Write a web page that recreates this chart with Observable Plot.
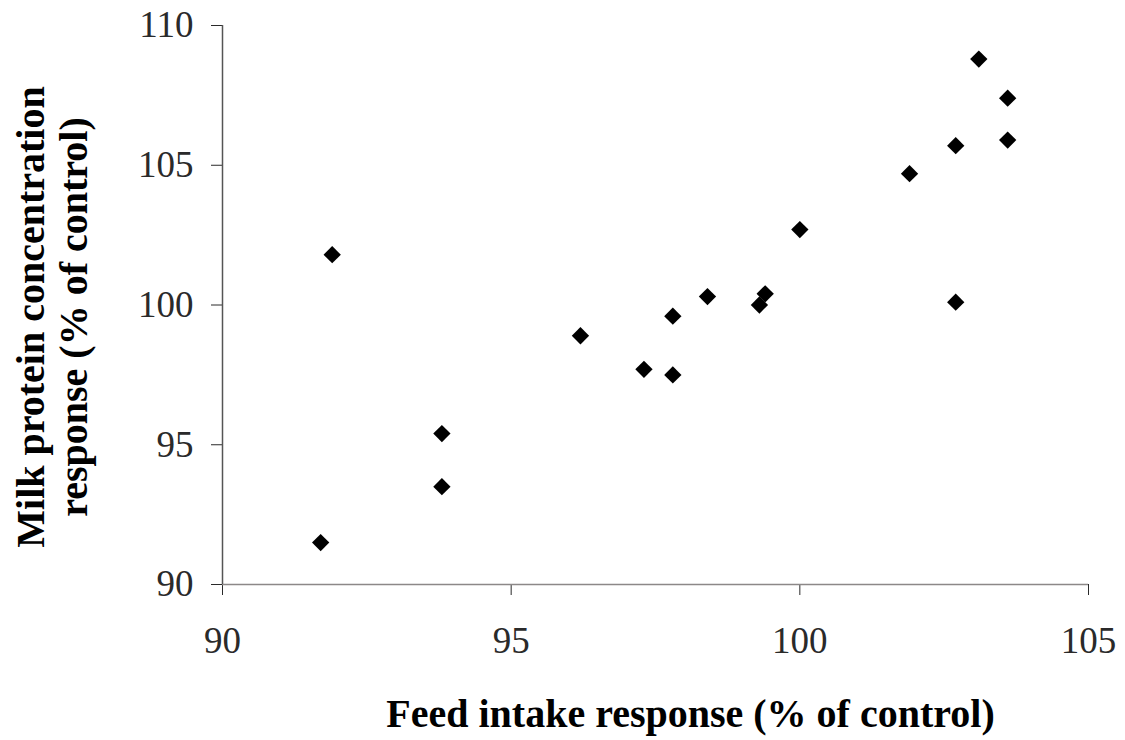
<!DOCTYPE html>
<html>
<head>
<meta charset="utf-8">
<script src="https://cdn.jsdelivr.net/npm/d3@7"></script>
<script src="https://cdn.jsdelivr.net/npm/@observablehq/plot@0.6"></script>
<style>
  html, body { margin: 0; padding: 0; background: #fff; }
  #chart svg { display: block; }
</style>
</head>
<body>
<div id="chart"></div>
<script>
// Feed intake response vs milk protein concentration response, both as % of control
const feedIntake  = [91.7, 91.9, 93.8, 93.8, 96.2, 97.3, 97.8, 97.8, 98.4, 99.3, 99.4, 100.0, 101.9, 102.7, 102.7, 103.1, 103.6, 103.6];
const proteinConc = [91.5, 101.8, 95.4, 93.5, 98.9, 97.7, 99.6, 97.5, 100.3, 100.0, 100.4, 102.7, 104.7, 105.7, 100.1, 108.8, 107.4, 105.9];

const xTicks = [90, 95, 100, 105];
const yTicks = [90, 95, 100, 105, 110];

const xTitle = "Feed intake response (% of control)";
const yTitle = "Milk protein concentration\nresponse (% of control)";

const points = feedIntake.map((x, i) => ({x, y: proteinConc[i]}));

const chart = Plot.plot({
  width: 1125,
  height: 740,
  marginLeft: 222,
  marginRight: 37,
  marginTop: 25,
  marginBottom: 156,
  style: {fontFamily: "'Liberation Serif', 'Times New Roman', serif", background: "#fff"},
  x: {domain: [90, 105]},
  y: {domain: [90, 110]},
  marks: [
    Plot.axisY({ticks: yTicks, tickSize: 11, tickPadding: 18, fontSize: 37, color: "#2a2a2a", label: null}),
    Plot.axisX({ticks: xTicks, tickSize: 11, tickPadding: 31, fontSize: 37, color: "#2a2a2a", label: null}),
    Plot.ruleY([90], {stroke: "#8c8888", strokeWidth: 1.5}),
    Plot.ruleX([90], {stroke: "#555", strokeWidth: 1.5}),
    Plot.dot(points, {x: "x", y: "y", symbol: "diamond2", r: 7.8, fill: "#000", stroke: "none"}),
    Plot.text([xTitle], {
      frameAnchor: "bottom", dx: 35, dy: 130, lineAnchor: "middle",
      fontSize: 40, fontWeight: "bold", fill: "#000"
    }),
    Plot.text([yTitle], {
      frameAnchor: "left", textAnchor: "middle", dx: -171, dy: 12, rotate: -90, lineAnchor: "middle",
      lineHeight: 1.075, fontSize: 40, fontWeight: "bold", fill: "#000"
    })
  ]
});

document.getElementById("chart").appendChild(chart);
</script>
</body>
</html>
